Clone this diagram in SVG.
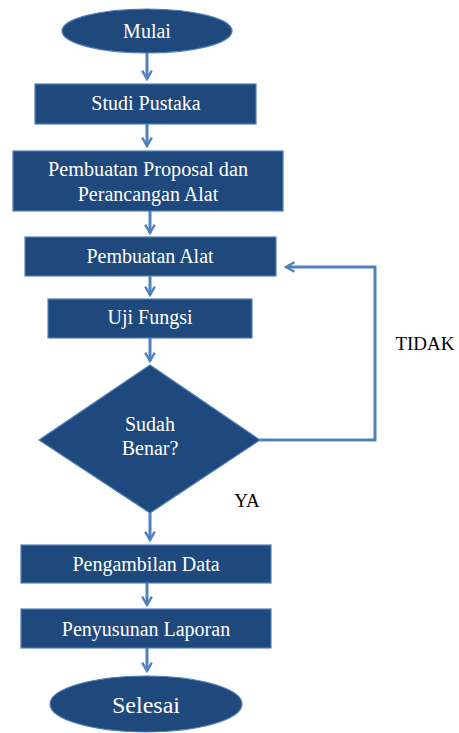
<svg xmlns="http://www.w3.org/2000/svg" width="459" height="733" viewBox="0 0 459 733">
<style>
.n{fill:#1f497d;stroke:#4f81bd;stroke-width:1.2}
.c{fill:none;stroke:#4f81bd;stroke-width:3}
</style>
<defs>
<marker id="ah" viewBox="0 0 10 10" refX="8" refY="5" markerWidth="4" markerHeight="4" orient="auto" markerUnits="strokeWidth">
<path d="M1,1 L8,5 L1,9" fill="none" stroke="#4f81bd" stroke-width="2"/>
</marker>
</defs>
<rect width="459" height="733" fill="#ffffff"/>
<g id="connectors">
<line class="c" x1="147" y1="53" x2="147" y2="79" marker-end="url(#ah)"/>
<line class="c" x1="147" y1="124" x2="147" y2="146" marker-end="url(#ah)"/>
<line class="c" x1="150" y1="211" x2="150" y2="233" marker-end="url(#ah)"/>
<line class="c" x1="150" y1="276" x2="150" y2="295" marker-end="url(#ah)"/>
<line class="c" x1="150" y1="338" x2="150" y2="361" marker-end="url(#ah)"/>
<line class="c" x1="150" y1="513" x2="150" y2="540" marker-end="url(#ah)"/>
<line class="c" x1="147" y1="583" x2="147" y2="605" marker-end="url(#ah)"/>
<line class="c" x1="147" y1="648" x2="147" y2="671" marker-end="url(#ah)"/>
<polyline class="c" points="260,440 375,440 375,267 286,267" marker-end="url(#ah)"/>
</g>
<g id="mulai"><ellipse class="n" cx="147" cy="31" rx="85" ry="22"/><text font-family="Liberation Serif" font-size="20" fill="#fff" text-anchor="middle" x="147" y="38">Mulai</text></g>
<g id="studi"><rect class="n" x="35" y="84" width="221" height="40"/><text font-family="Liberation Serif" font-size="20" fill="#fff" text-anchor="middle" x="146" y="110">Studi Pustaka</text></g>
<g id="proposal"><rect class="n" x="13" y="151" width="270" height="60"/><text font-family="Liberation Serif" font-size="20" fill="#fff" text-anchor="middle" x="148" y="176" textLength="200" lengthAdjust="spacingAndGlyphs">Pembuatan Proposal dan</text><text font-family="Liberation Serif" font-size="20" fill="#fff" text-anchor="middle" x="148" y="201">Perancangan Alat</text></g>
<g id="pembuatan"><rect class="n" x="25" y="237" width="251" height="39"/><text font-family="Liberation Serif" font-size="20" fill="#fff" text-anchor="middle" x="150" y="263">Pembuatan Alat</text></g>
<g id="uji"><rect class="n" x="48" y="299" width="204" height="39"/><text font-family="Liberation Serif" font-size="20" fill="#fff" text-anchor="middle" x="150" y="324">Uji Fungsi</text></g>
<g id="decision"><polygon class="n" points="150,365 260,440 150,513 39,440"/><text font-family="Liberation Serif" font-size="20" fill="#fff" text-anchor="middle" x="150" y="431">Sudah</text><text font-family="Liberation Serif" font-size="20" fill="#fff" text-anchor="middle" x="150" y="455">Benar?</text></g>
<g id="pengambilan"><rect class="n" x="21" y="545" width="250" height="38"/><text font-family="Liberation Serif" font-size="20" fill="#fff" text-anchor="middle" x="146" y="571">Pengambilan Data</text></g>
<g id="penyusunan"><rect class="n" x="21" y="609" width="250" height="39"/><text font-family="Liberation Serif" font-size="20" fill="#fff" text-anchor="middle" x="146" y="636">Penyusunan Laporan</text></g>
<g id="selesai"><ellipse class="n" cx="146" cy="704" rx="96" ry="28"/><text font-family="Liberation Serif" font-size="24" fill="#fff" text-anchor="middle" x="146" y="713">Selesai</text></g>
<g id="labels"><text font-family="Liberation Serif" font-size="19" fill="#000" text-anchor="middle" x="425" y="350">TIDAK</text><text font-family="Liberation Serif" font-size="19" fill="#000" text-anchor="middle" x="247" y="507">YA</text></g>
</svg>
